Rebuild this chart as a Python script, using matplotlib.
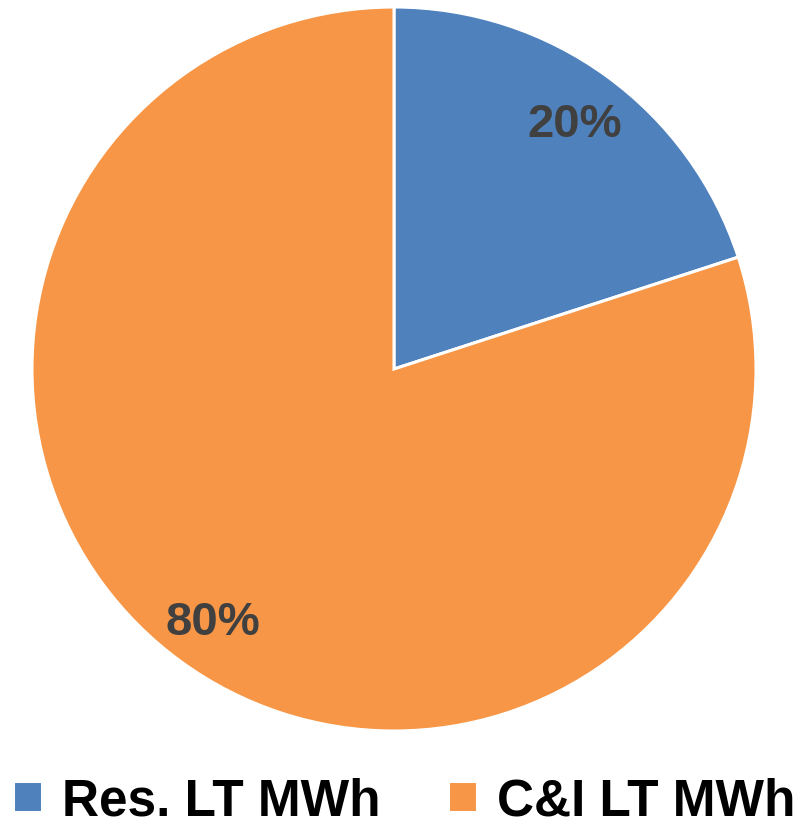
import matplotlib
matplotlib.use("Agg")
import matplotlib.pyplot as plt

categories = ["Res. LT MWh", "C&I LT MWh"]
values = [20, 80]
colors = ["#4F81BD", "#F79646"]

plt.rcParams['font.family'] = ['Liberation Sans', 'DejaVu Sans']

W, H = 797, 829
fig = plt.figure(figsize=(W / 100, H / 100), dpi=100)
ax = fig.add_axes([32 / W, 97 / H, 724 / W, 724 / H])

wedges, texts, autotexts = ax.pie(
    values, colors=colors, startangle=90, counterclock=False,
    autopct='%1.0f%%', pctdistance=0.85, radius=1.0,
    wedgeprops=dict(edgecolor='white', linewidth=2.2),
    textprops=dict(color='#404040', fontsize=34, fontweight='bold'))
for t in autotexts:
    t.set_va('center')
    t.set_y(t.get_position()[1] - 0.012)
ax.set_xlim(-1, 1)
ax.set_ylim(-1, 1)
ax.set_aspect('equal')
ax.axis('off')

fig.legend(wedges, categories, loc='lower left',
           bbox_to_anchor=(13 / W, 2 / H), ncol=2, frameon=False,
           prop=dict(size=37, weight='bold'), borderpad=0, borderaxespad=0,
           handlelength=0.56, handleheight=0.56, handletextpad=0.4,
           columnspacing=1.3, labelcolor='black')

fig.savefig("out.png", dpi=100)
